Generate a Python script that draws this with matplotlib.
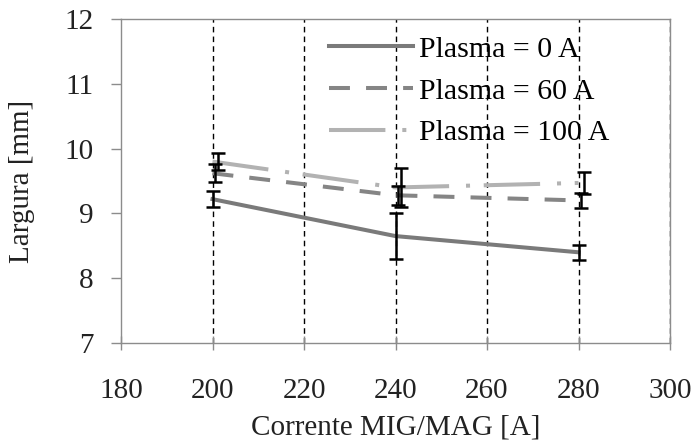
import matplotlib
matplotlib.use("Agg")
import matplotlib.pyplot as plt

plt.rcParams['font.family'] = ['Liberation Serif', 'DejaVu Serif']

corrente = [200, 240, 280]
labels = ["Plasma = 0 A", "Plasma = 60 A", "Plasma = 100 A"]
largura_0 = [9.22, 8.65, 8.40]
largura_60 = [9.62, 9.28, 9.20]
largura_100 = [9.80, 9.40, 9.47]
erro_0 = [0.12, 0.35, 0.12]
erro_60 = [0.14, 0.15, 0.12]
erro_100 = [0.13, 0.30, 0.17]

fig = plt.figure(figsize=(6.99, 4.42), dpi=100)
ax = fig.add_axes([121/699, 1 - 343/442, 549/699, 324/442])

series = [
    (largura_0, erro_0, '#7a7a7a', '-', 0.0),
    (largura_60, erro_60, '#858585', (0, (5.2, 4.0)), 0.6),
    (largura_100, erro_100, '#b2b2b2', (0, (14, 4.2, 1.0, 3.4)), 1.2),
]
for (y, err, color, ls, dx), lab in zip(series, labels):
    ax.plot(corrente, y, color=color, linestyle=ls, linewidth=2.9, label=lab, zorder=3)
    ax.errorbar([c + dx for c in corrente], y, yerr=err, fmt='none', ecolor='black',
                elinewidth=1.8, capsize=5, capthick=1.8, zorder=4)

ax.set_xlim(180, 300)
ax.set_ylim(7, 12)
ax.set_xticks(range(180, 301, 20))
ax.set_yticks(range(7, 13))
for xv in range(200, 301, 20):
    ax.axvline(xv, color='black', linestyle=(0, (4, 3)), linewidth=1.0, zorder=1)

for s in ax.spines.values():
    s.set_color('#8c8c8c')
    s.set_linewidth(1.0)
ax.tick_params(axis='both', colors='#8c8c8c', labelcolor='#222222', labelsize=21, width=1.0)
ax.tick_params(axis='x', direction='inout', length=10, pad=20)
ax.tick_params(axis='y', direction='out', length=7, pad=13)

ax.set_xlabel("Corrente MIG/MAG [A]", fontsize=21, color='#222222', labelpad=8)
ax.set_ylabel("Largura [mm]", fontsize=21, color='#222222', labelpad=21)

ax.legend(loc='upper left', bbox_to_anchor=(0.357, 0.985), frameon=False, fontsize=21.5,
          handlelength=2.8, handletextpad=0.2, labelspacing=0.5, borderaxespad=0)

fig.savefig("out.png", dpi=100)
